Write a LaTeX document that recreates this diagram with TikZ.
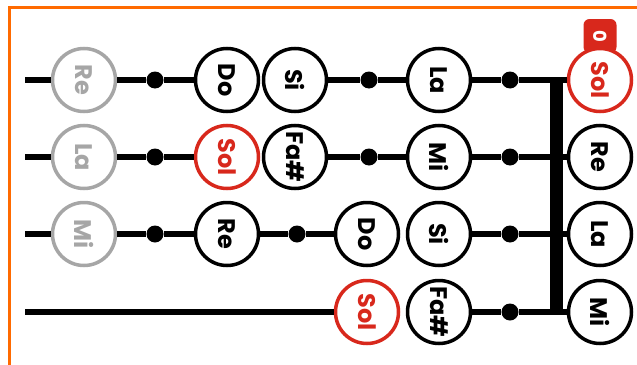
\documentclass[tikz,border=0pt]{standalone}
\usepackage{fontspec}
\setmainfont{Poppins}
\definecolor{frameorange}{HTML}{FF6A00}
\definecolor{notered}{HTML}{D8281C}
\definecolor{opengray}{HTML}{A6A6A6}

\begin{document}
\begin{tikzpicture}[x=1pt,y=-1pt,
    note/.style={circle,draw,fill=white,line width=3.5pt,minimum size=63pt,
      inner sep=0pt,rotate=-90,font=\bfseries\fontsize{24}{24}\selectfont},
    open/.style={note,draw=opengray,text=opengray},
    fret/.style={note,draw=notered,text=notered},
    dot/.style={circle,fill,minimum size=17pt,inner sep=0pt},
    string/.style={line width=5.5pt}]
      \useasboundingbox (0,0) rectangle (637,364);
      \clip (0,0) rectangle (637,364);
      \draw[frameorange,line width=3pt] (9,7) rectangle (680,420);
      % string starts
      \coordinate (s1) at (25,80);
      \coordinate (s2) at (25,157);
      \coordinate (s3) at (25,234);
      \coordinate (s4) at (25,312);
      % capo tag
      \node[fill=notered,text=white,rounded corners=6pt,minimum width=34pt,
        minimum height=33pt,inner sep=0pt,rotate=-90,
        font=\bfseries\fontsize{18}{18}\selectfont] (tag) at (600,36) {0};
      % row 1
      \node[open] (re1) at (84,80) {Re};
      \node[dot] (a1) at (155,80) {};
      \node[note] (do1) at (227,80) {Do};
      \node[note] (si1) at (295,80) {Si};
      \node[dot] (b1) at (369,80) {};
      \node[note] (la1) at (439,80) {La};
      \node[dot] (c1) at (510,80) {};
      \node[fret] (sol1) at (600,80) {Sol};
      % row 2
      \node[open] (la2) at (84,157) {La};
      \node[dot] (a2) at (155,157) {};
      \node[fret] (sol2) at (227,157) {Sol};
      \node[note] (fa2) at (295,157) {Fa\#};
      \node[dot] (b2) at (369,157) {};
      \node[note] (mi2) at (439,157) {Mi};
      \node[dot] (c2) at (510,157) {};
      \node[note] (re2) at (600,157) {Re};
      % row 3
      \node[open] (mi3) at (84,234) {Mi};
      \node[dot] (a3) at (155,234) {};
      \node[note] (re3) at (227,234) {Re};
      \node[dot] (b3) at (297,234) {};
      \node[note] (do3) at (367,234) {Do};
      \node[note] (si3) at (439,234) {Si};
      \node[dot] (c3) at (510,234) {};
      \node[note] (la3) at (600,234) {La};
      % row 4
      \node[fret] (sol4) at (367,312) {Sol};
      \node[note] (fa4) at (439,312) {Fa\#};
      \node[dot] (c4) at (510,312) {};
      \node[note] (mi4) at (600,312) {Mi};
      % strings
      \draw[string] (s1) -- (re1) (re1) -- (a1) -- (do1) (si1) -- (b1) -- (la1)
        (la1) -- (c1) -- (sol1);
      \draw[string] (s2) -- (la2) (la2) -- (a2) -- (sol2) (fa2) -- (b2) -- (mi2)
        (mi2) -- (c2) -- (re2);
      \draw[string] (s3) -- (mi3) (mi3) -- (a3) -- (re3) (re3) -- (b3) -- (do3)
        (si3) -- (c3) -- (la3);
      \draw[string] (s4) -- (sol4) (fa4) -- (c4) -- (mi4);
      % bar
      \coordinate (bt) at (556,77.5);
      \coordinate (bb) at (556,314.5);
      \draw[line width=13pt] (bt) -- (bb);
\end{tikzpicture}
\end{document}
